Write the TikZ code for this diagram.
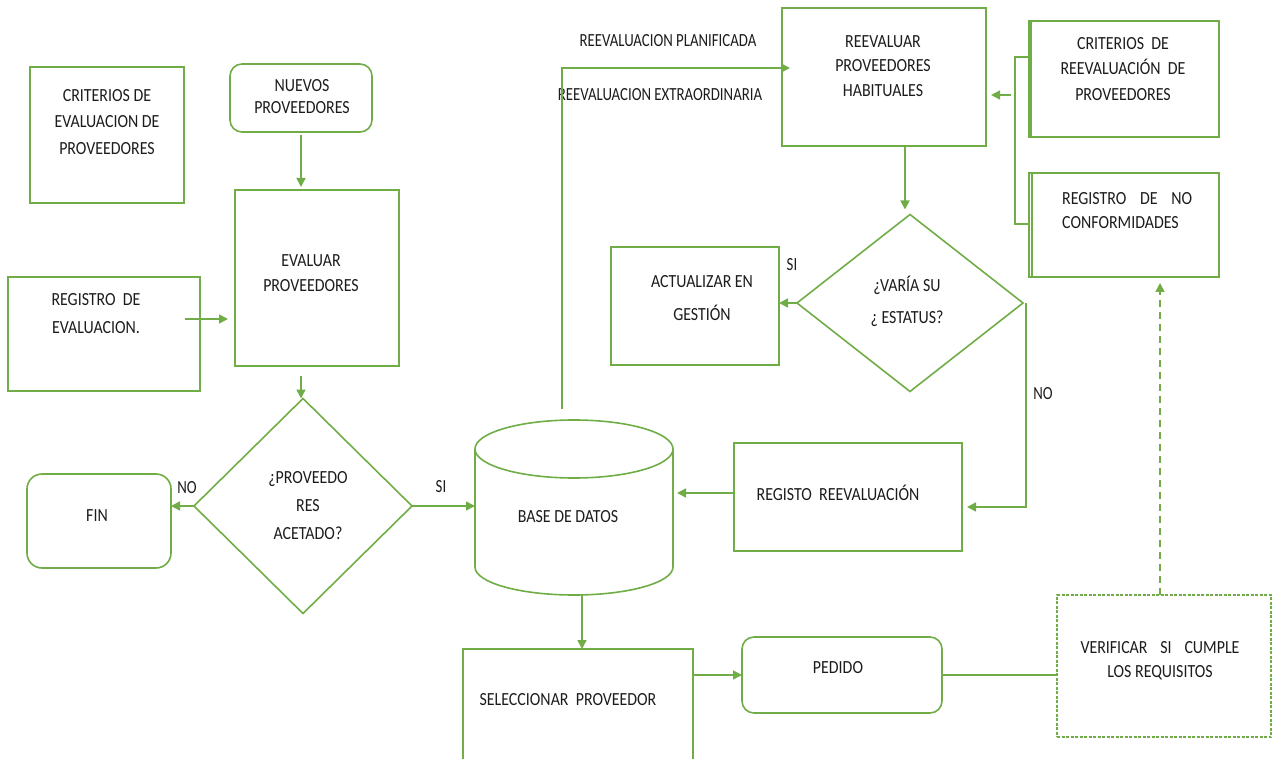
\documentclass[tikz,border=0pt]{standalone}
\usepackage{fontspec}
\setmainfont[FakeStretch=0.86]{Carlito}
\newfontfamily\lblfont[FakeStretch=0.8]{Carlito}
\usetikzlibrary{shapes.geometric,arrows.meta}
\definecolor{lgreen}{HTML}{70AD47}
\definecolor{ink}{HTML}{1C1C1C}
\newcommand\txtsize[1]{\fontsize{18.5}{#1}\selectfont}
\begin{document}
\begin{tikzpicture}[x=1pt,y=-1pt,
  ln/.style={draw=lgreen,line width=1.6pt},
  arr/.style={ln,-{Triangle[length=9pt,width=9pt]}},
  box/.style={ln,rectangle,inner sep=0pt,outer sep=0pt},
  rbox/.style={box,rounded corners=12pt},
  dia/.style={ln,diamond,inner sep=0pt,outer sep=0pt},
  txt/.style={text=ink,align=center,inner sep=0pt,font=\txtsize{#1}},
  txt/.default=25,
  lbl/.style={text=ink,inner sep=0pt,font=\lblfont\txtsize{22}}]
\useasboundingbox (0,0) rectangle (1272,759);
\clip (0,0) rectangle (1272,759);

% ---- boxes ----
\node[box,minimum width=154pt,minimum height=136pt] (crit1) at (107,135) {};
\node[rbox,minimum width=142pt,minimum height=68pt] (nuevos) at (301,98) {};
\node[box,minimum width=164pt,minimum height=176pt] (evaluar) at (317,278) {};
\node[box,minimum width=192pt,minimum height=114pt] (reg1) at (104,334) {};
\node[dia,minimum width=218pt,minimum height=215pt] (q1) at (303,506) {};
\node[rbox,rounded corners=15pt,minimum width=144pt,minimum height=94pt] (fin) at (99,521) {};
\node[inner sep=0pt,outer sep=0pt,minimum width=198pt,minimum height=176pt] (db) at (574,507) {};
\node[box,minimum width=204pt,minimum height=138pt] (reev) at (884,77) {};
\node[box,minimum width=190pt,minimum height=116pt] (crit2) at (1124,79) {};
\node[box,minimum width=190pt,minimum height=104pt] (nc) at (1124,225) {};
\node[dia,minimum width=226pt,minimum height=177pt] (q2) at (910,303) {};
\node[box,minimum width=168pt,minimum height=118pt] (act) at (695,306) {};
\node[box,minimum width=228pt,minimum height=108pt] (regre) at (848,497) {};
\node[box,minimum width=230pt,minimum height=152pt] (sel) at (578,725) {};
\node[rbox,minimum width=200pt,minimum height=76pt] (ped) at (842,675) {};
\node[box,line width=1.2pt,dash pattern=on 3pt off 1.5pt,minimum width=214pt,minimum height=142pt] (ver) at (1164,666) {};

% doubled left edges
\draw[ln] ([xshift=2pt]crit2.north west) -- ([xshift=2pt]crit2.south west);
\draw[ln,line width=1.2pt] ([xshift=3pt]nc.north west) -- ([xshift=3pt]nc.south west);

% database cylinder
\draw[ln] (574,449) ellipse [x radius=99pt, y radius=29pt];
\draw[ln] (475,449) -- (475,567) arc[start angle=180,end angle=360,x radius=99pt,y radius=28pt] -- (673,449);

% ---- texts ----
\node[txt=26.5] (t-crit1) at (107,122) {CRITERIOS DE\\EVALUACION DE\\PROVEEDORES};
\node[txt=22] (t-nuevos) at (302,97) {NUEVOS\\PROVEEDORES};
\node[txt=25] (t-evaluar) at (311,273) {EVALUAR\\PROVEEDORES};
\node[txt=28] (t-reg1) at (96,314) {REGISTRO~~DE\\EVALUACION.};
\node[txt=28] (t-q1) at (308,506) {¿PROVEEDO\\RES\\ACETADO?};
\node[txt] (t-fin) at (97,516) {FIN};
\node[txt] (t-db) at (568,517) {BASE DE DATOS};
\node[txt=24.5] (t-reev) at (883,66) {REEVALUAR\\PROVEEDORES\\HABITUALES};
\node[txt=25.5] (t-crit2) at (1123,69) {CRITERIOS~~DE\\REEVALUACIÓN~~DE\\PROVEEDORES};
\node[txt=24,align=left,anchor=north west] (t-nc) at (1062,192) {\makebox[130pt][s]{REGISTRO\hfil DE\hfil NO}\\CONFORMIDADES};
\node[txt=32] (t-q2) at (907,301) {¿VARÍA SU\\¿ ESTATUS?};
\node[txt=33] (t-act) at (702,298) {ACTUALIZAR EN\\GESTIÓN};
\node[txt] (t-regre) at (838,493) {REGISTO~~REEVALUACIÓN};
\node[txt] (t-sel) at (568,700) {SELECCIONAR~~PROVEEDOR};
\node[txt] (t-ped) at (838,668) {PEDIDO};
\node[txt=24] (t-ver) at (1160,661) {\makebox[159pt][s]{VERIFICAR\hfil SI\hfil CUMPLE}\\LOS REQUISITOS};

% ---- labels ----
\node[lbl] (l-no1) at (187,488) {NO};
\node[lbl] (l-si1) at (441,487) {SI};
\node[lbl] (l-si2) at (792,265) {SI};
\node[lbl] (l-no2) at (1043,394) {NO};
\node[lbl] (l-plan) at (668,41) {REEVALUACION PLANIFICADA};
\node[lbl] (l-extra) at (660,95) {REEVALUACION EXTRAORDINARIA};

% ---- connectors ----
\draw[arr] ([yshift=-3pt]nuevos.south) -- ([yshift=3pt]nuevos.south |- evaluar.north);
\draw[arr] (q1.north |- evaluar.south) ++(-2pt,-10pt) coordinate (evout) -- ([xshift=-2pt]q1.north);
\coordinate (r1out) at ([xshift=-15pt,yshift=15pt]reg1.east);
\draw[arr] (r1out) -- ([xshift=-7pt]evaluar.west |- r1out);
\draw[arr] (q1.west) -- (fin.east |- q1.west);
\draw[arr] (q1.east) -- (db.west |- q1.east);
\coordinate (dbup) at ([xshift=-12pt,yshift=10pt]db.north);
\draw[arr] (dbup) |- ([xshift=8pt,yshift=9pt]reev.west);
\draw[arr] ([xshift=-5pt]q2.north |- reev.south) -- ([xshift=-5pt,yshift=5pt]q2.north);
\draw[arr] (q2.west) -- (act.east |- q2.west);
\draw[arr] ([xshift=3pt]q2.east) -- ([xshift=3pt]q2.east |- db.center) -- ([xshift=5pt]regre.east |- db.center);
\coordinate (rgw) at ([yshift=4pt]regre.west);
\draw[arr] (rgw) -- ([xshift=4pt]db.east |- rgw);
\draw[arr] ([xshift=8pt]db.south) -- ([xshift=8pt]db.south |- sel.north);
\draw[arr] (sel.east |- ped.west) -- (ped.west);
\draw[ln] (ped.east) -- (ver.west |- ped.east);
\draw[arr,dash pattern=on 7pt off 5pt] ([xshift=-4pt]ver.north) -- ([xshift=-4pt,yshift=-6pt]ver.north |- nc.south);
\draw[ln,line width=1.2pt] ([yshift=22pt]crit2.west) -- ++(-14pt,0) |- ([yshift=1pt]nc.west);
\coordinate (bro) at ([xshift=-18pt,yshift=-16pt]crit2.west);
\draw[arr] (bro) -- ([xshift=5pt]reev.east |- bro);
\end{tikzpicture}
\end{document}
